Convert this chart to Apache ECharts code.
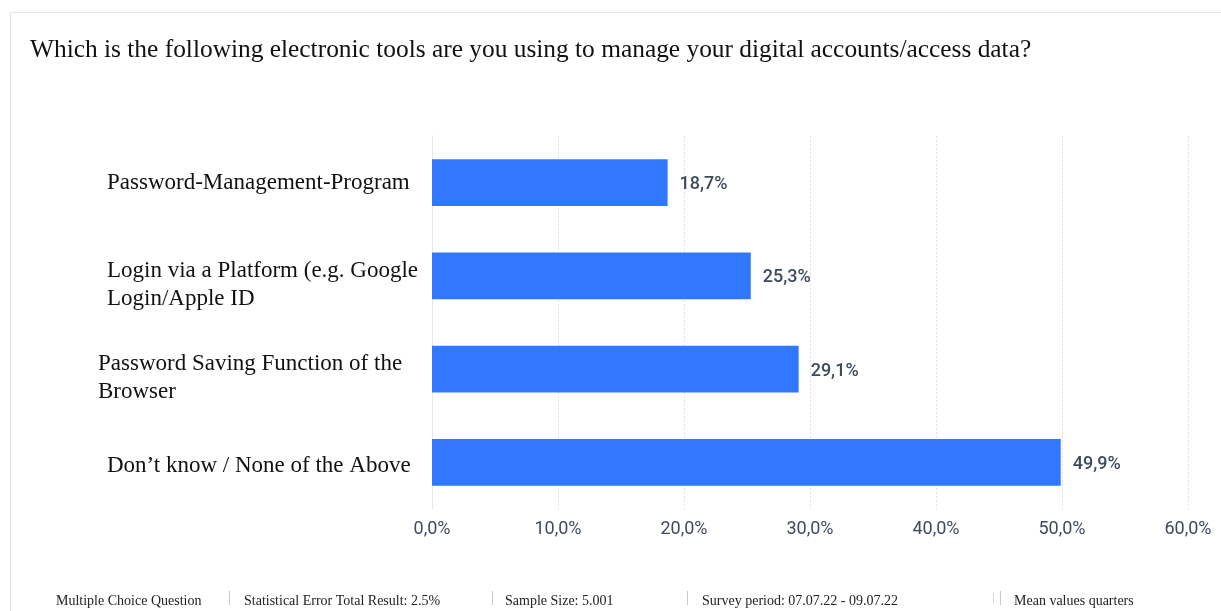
<!DOCTYPE html>
<html>
<head>
<meta charset="utf-8">
<script src="https://cdn.jsdelivr.net/npm/echarts@6/dist/echarts.min.js"></script>
<style>
  html, body { margin: 0; padding: 0; background: #fff; }
  #chart { width: 1221px; height: 611px; }
</style>
</head>
<body>
<div id="chart"></div>
<script>
// Answer options, listed top to bottom
const categories = [
  'Password-Management-Program',
  'Login via a Platform (e.g. Google\nLogin/Apple ID',
  'Password Saving Function of the\nBrowser',
  'Don\u2019t know / None of the Above'
];
// Share of respondents (%)
const shares = [18.7, 25.3, 29.1, 49.9];
// Value axis ticks (%)
const tickValues = [0, 10, 20, 30, 40, 50, 60];

const titleText = 'Which is the following electronic tools are you using to manage your digital accounts/access data?';
const footerNotes = [
  'Multiple Choice Question',
  'Statistical Error Total Result: 2.5%',
  'Sample Size: 5.001',
  'Survey period: 07.07.22 - 09.07.22',
  'Mean values quarters'
];

const fmtPct = v => v.toFixed(1).replace('.', ',') + '%';
const serif = '"Liberation Serif", "Times New Roman", serif';

const chart = echarts.init(document.getElementById('chart'), null, { renderer: 'canvas' });

const footerX = [56, 244, 505, 702, 1014];
const sepX = [229, 492, 687, 1000];
const footerGraphics = footerNotes.map((t, i) => ({
  type: 'text', left: footerX[i], top: 594,
  style: { text: t, font: '14px ' + serif, fill: '#222' }
}));
sepX.forEach(x => footerGraphics.push({
  type: 'rect', shape: { x: x, y: 591, width: 1, height: 14 },
  style: { fill: '#c8c8c8' }
}));
footerGraphics.push({
  type: 'rect', shape: { x: 993, y: 593, width: 1, height: 10 },
  style: { fill: '#d8d8d8' }
});

// spacer line heights above each label block (nudges text downward)
const spacerStyles = ['', '{s3| }\n', '{s3| }\n', '{s2| }\n'];

chart.setOption({
  backgroundColor: '#fff',
  animation: false,
  title: {
    text: titleText,
    left: 25, top: 33,
    textStyle: { fontFamily: serif, fontSize: 25.4, fontWeight: 'normal', color: '#111' }
  },
  graphic: [
    {
      type: 'rect', silent: true,
      shape: { x: 10.5, y: 12.5, width: 1400, height: 800 },
      style: { fill: 'none', stroke: '#e3e3e3', lineWidth: 1 }
    }
  ].concat(footerGraphics),
  grid: { left: 432, right: 33, top: 136, bottom: 102, containLabel: false },
  xAxis: {
    type: 'value',
    min: 0, max: 60, interval: 10,
    axisLine: { show: false },
    axisTick: { show: false },
    splitLine: { show: true, lineStyle: { color: '#e2e2e2', type: [2, 2], width: 1 } },
    axisLabel: {
      margin: 11,
      fontFamily: 'Roboto, sans-serif', fontSize: 18, color: '#3e4b5c',
      formatter: v => tickValues.includes(v) ? fmtPct(v) : ''
    }
  },
  yAxis: {
    type: 'category',
    data: categories,
    inverse: true,
    axisLine: { show: true, lineStyle: { color: '#e6e6e6', width: 1 } },
    axisTick: { show: false },
    axisLabel: {
      align: 'left',
      margin: 334,
      formatter: (v, i) => {
        const style = i === 2 ? 'b' : 'a';
        return spacerStyles[i] + v.split('\n').map(l => '{' + style + '|' + l + '}').join('\n');
      },
      rich: {
        s2: { fontSize: 1, lineHeight: 8 },
        s3: { fontSize: 1, lineHeight: 18 },
        a: { fontFamily: serif, fontSize: 23, color: '#111', lineHeight: 28, padding: [0, 0, 0, 9] },
        b: { fontFamily: serif, fontSize: 23, color: '#111', lineHeight: 28, padding: [0, 0, 0, 0] }
      }
    }
  },
  series: [{
    type: 'bar',
    data: shares,
    barWidth: '50%',
    itemStyle: { color: '#2f78ff' },
    label: {
      show: true,
      position: 'right',
      distance: 12,
      offset: [0, 2],
      fontFamily: 'Roboto, sans-serif', fontSize: 18, fontWeight: 500, color: '#3e4b5c',
      formatter: p => fmtPct(p.value)
    }
  }]
});
</script>
</body>
</html>
